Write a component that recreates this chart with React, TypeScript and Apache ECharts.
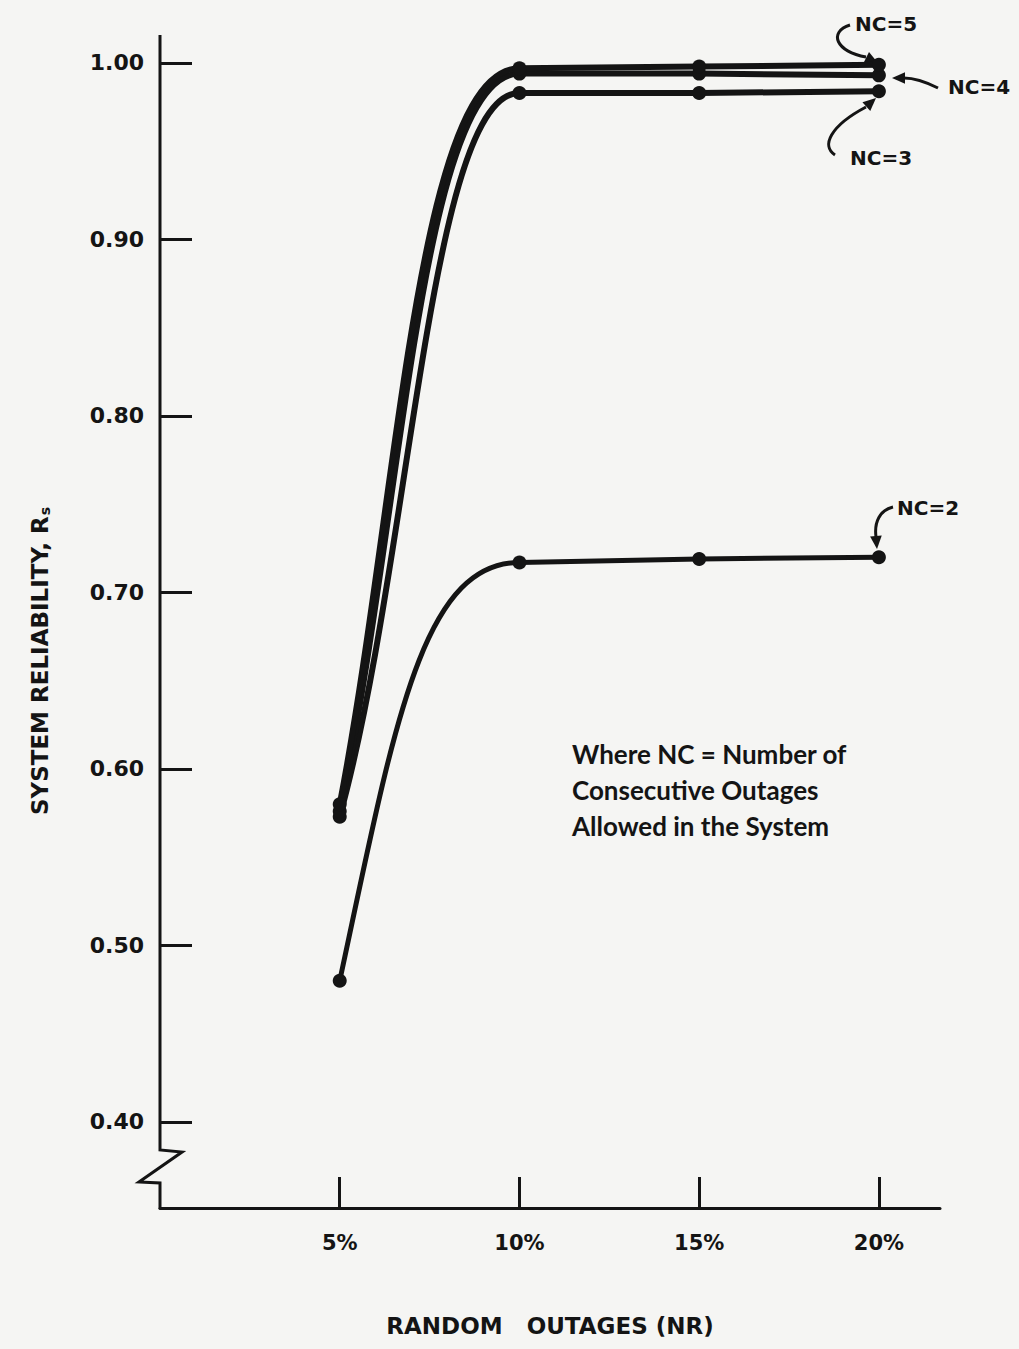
import React, { useEffect, useRef } from "react";
import * as echarts from "echarts";

// ---- data ----
const X_VALUES = [5, 10, 15, 20]; // random outages, %
const NC2 = [0.48, 0.717, 0.719, 0.72];
const NC3 = [0.573, 0.983, 0.983, 0.984];
const NC4 = [0.576, 0.994, 0.994, 0.993];
const NC5 = [0.58, 0.997, 0.998, 0.999];
const Y_TICKS = [0.4, 0.5, 0.6, 0.7, 0.8, 0.9, 1.0];
const X_TICKS = [5, 10, 15, 20];
const X_TICK_LABELS = ["5%", "10%", "15%", "20%"];

const INK = "#141414";
const BG = "#f5f5f3";
const FONT = "DejaVu Sans";

function segments(vals: number[]) {
  return vals.slice(1).map((v, i) => [X_VALUES[i], vals[i], X_VALUES[i + 1], v]);
}

function points(vals: number[]) {
  return vals.map((v, i) => [X_VALUES[i], v]);
}

function curveSeries(name: string, vals: number[], cx1: number, bend: number, cx2: number, width: number) {
  return {
    name,
    type: "custom",
    silent: true,
    z: 3,
    data: segments(vals),
    encode: { x: [0, 2], y: [1, 3] },
    renderItem: (params: any, api: any) => {
      const a = api.coord([api.value(0), api.value(1)]);
      const b = api.coord([api.value(2), api.value(3)]);
      const dx = b[0] - a[0];
      const dy = b[1] - a[1];
      const style = { stroke: INK, lineWidth: width, fill: "none", lineCap: "round" };
      if (params.dataIndex === 0) {
        return {
          type: "bezierCurve",
          shape: {
            x1: a[0],
            y1: a[1],
            x2: b[0],
            y2: b[1],
            cpx1: a[0] + cx1 * dx,
            cpy1: a[1] + bend * dy,
            cpx2: a[0] + cx2 * dx,
            cpy2: b[1],
          },
          style,
        };
      }
      return {
        type: "line",
        shape: { x1: a[0], y1: a[1], x2: b[0], y2: b[1] },
        style,
      };
    },
  };
}

function dotSeries(name: string, vals: number[]) {
  return {
    name: name + " points",
    type: "scatter",
    silent: true,
    z: 4,
    symbol: "circle",
    symbolSize: 14,
    itemStyle: { color: INK, opacity: 1 },
    data: points(vals),
  };
}

function arrowHead(tip: number[], from: number[], size: number) {
  const vx = tip[0] - from[0];
  const vy = tip[1] - from[1];
  const len = Math.sqrt(vx * vx + vy * vy);
  const ux = vx / len;
  const uy = vy / len;
  const bx = tip[0] - ux * size;
  const by = tip[1] - uy * size;
  const px = -uy * size * 0.45;
  const py = ux * size * 0.45;
  return {
    type: "polygon",
    shape: { points: [tip, [bx + px, by + py], [bx - px, by - py]] },
    style: { fill: INK },
  };
}

function arrow(p1: number[], c1: number[], c2: number[], p2: number[], tip: number[]) {
  return [
    {
      type: "bezierCurve",
      shape: { x1: p1[0], y1: p1[1], cpx1: c1[0], cpy1: c1[1], cpx2: c2[0], cpy2: c2[1], x2: p2[0], y2: p2[1] },
      style: { stroke: INK, lineWidth: 3, fill: "none" },
    },
    arrowHead(tip, p2, 13),
  ];
}

function label(text: string, x: number, y: number, size = 20, weight: any = "bold", family = FONT) {
  return {
    type: "text",
    x,
    y,
    style: {
      text,
      fill: INK,
      font: `${weight} ${size}px "${family}"`,
      align: "left",
      verticalAlign: "middle",
    },
  };
}

export default function App() {
  const ref = useRef<HTMLDivElement>(null);

  useEffect(() => {
    if (!ref.current) return;
    const chart = echarts.init(ref.current, undefined, { renderer: "svg" });
    const option: any = {
      animation: false,
      backgroundColor: BG,
      grid: { left: 160, right: 79, top: 35, bottom: 141, containLabel: false },
      xAxis: {
        type: "value",
        min: 0,
        max: 21.7,
        name: "RANDOM   OUTAGES (NR)",
        nameLocation: "middle",
        nameGap: 106,
        nameTextStyle: { color: INK, fontFamily: FONT, fontWeight: "bold", fontSize: 23 },
        axisLine: { show: true, lineStyle: { color: INK, width: 3 } },
        axisTick: {
          show: true,
          inside: true,
          length: 31,
          customValues: X_TICKS,
          lineStyle: { color: INK, width: 3 },
        },
        axisLabel: {
          show: true,
          customValues: X_TICKS,
          margin: 24,
          color: INK,
          fontFamily: FONT,
          fontWeight: "bold",
          fontSize: 21,
          formatter: (v: number) => X_TICK_LABELS[X_TICKS.indexOf(v)] ?? "",
        },
        splitLine: { show: false },
      },
      yAxis: {
        type: "value",
        min: 0.35127,
        max: 1.01586,
        axisLine: { show: false },
        axisTick: {
          show: true,
          inside: true,
          length: 32,
          customValues: Y_TICKS,
          lineStyle: { color: INK, width: 3 },
        },
        axisLabel: {
          show: true,
          customValues: Y_TICKS,
          margin: 16,
          color: INK,
          fontFamily: FONT,
          fontWeight: "bold",
          fontSize: 22,
          formatter: (v: number) => v.toFixed(2),
        },
        splitLine: { show: false },
      },
      series: [
        curveSeries("NC=2", NC2, 0.3, 0.6, 0.45, 5),
        curveSeries("NC=3", NC3, 0.4, 0.36, 0.5, 6),
        curveSeries("NC=4", NC4, 0.35, 0.4, 0.45, 6),
        curveSeries("NC=5", NC5, 0.33, 0.42, 0.43, 6),
        dotSeries("NC=2", NC2),
        dotSeries("NC=3", NC3),
        dotSeries("NC=4", NC4),
        dotSeries("NC=5", NC5),
      ],
      graphic: [
        // y axis line with break symbol
        {
          type: "polyline",
          shape: {
            points: [
              [160, 35],
              [160, 1150],
              [182, 1152],
              [139, 1182],
              [160, 1183],
              [160, 1209],
            ],
          },
          style: { stroke: INK, lineWidth: 3, fill: "none", lineJoin: "miter" },
        },
        // y axis title
        {
          type: "text",
          x: 40,
          y: 661,
          rotation: Math.PI / 2,
          style: {
            text: "{a|SYSTEM RELIABILITY, R}{s|s}",
            align: "center",
            verticalAlign: "middle",
            rich: {
              a: { fontFamily: FONT, fontWeight: "bold", fontSize: 23, fill: INK, color: INK },
              s: { fontFamily: FONT, fontWeight: "bold", fontSize: 14, fill: INK, color: INK, verticalAlign: "bottom", padding: [8, 0, 0, 1] },
            },
          },
        },
        // NC labels
        label("NC=5", 855, 24),
        label("NC=4", 948, 87),
        label("NC=3", 850, 158),
        label("NC=2", 897, 508),
        ...arrow([850, 25], [828, 32], [836, 52], [866, 57], [878, 63]),
        ...arrow([938, 88], [924, 81], [914, 78], [904, 78], [892, 78]),
        ...arrow([835, 155], [821, 146], [830, 126], [866, 107], [876, 98]),
        ...arrow([893, 507], [880, 510], [874, 522], [876, 537], [877, 549]),
        // note
        label("Where NC = Number of", 572, 754, 26, "bold", "Lato"),
        label("Consecutive Outages", 572, 790, 26, "bold", "Lato"),
        label("Allowed in the System", 572, 826, 26, "bold", "Lato"),
      ],
    };
    chart.setOption(option);
    return () => chart.dispose();
  }, []);

  return (
    <div
      ref={ref}
      style={{ position: "absolute", left: 0, top: 0, width: 1019, height: 1349 }}
    />
  );
}
